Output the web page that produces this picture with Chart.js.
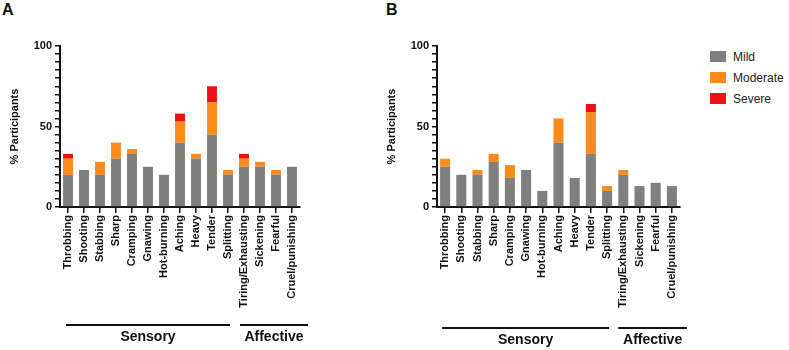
<!DOCTYPE html>
<html>
<head>
<meta charset="utf-8">
<script src="https://cdn.jsdelivr.net/npm/chart.js@4/dist/chart.umd.min.js"></script>
<style>
  body { margin: 0; width: 789px; height: 350px; background: #fff; position: relative; overflow: hidden;
         font-family: "Liberation Sans", Arial, sans-serif; }
  .wrap { position: absolute; top: 0; }
  .panel { position: absolute; font-weight: bold; font-size: 16px; color: #111; }
  #legend { position: absolute; left: 710px; top: 50px; font-size: 12px; color: #222; }
  #legend div { height: 21px; display: flex; align-items: flex-start; }
  #legend span.box { width: 16px; height: 11px; margin-right: 7px; margin-top: 1px; }
</style>
</head>
<body>
<div class="panel" style="left:2px;top:1px">A</div>
<div class="panel" style="left:386px;top:1px">B</div>
<div class="wrap" style="left:0"><canvas id="chartA" width="310" height="350"></canvas></div>
<div class="wrap" style="left:376px"><canvas id="chartB" width="314" height="350"></canvas></div>
<div id="legend"></div>
<script>
// data (% participants)
const descriptors = ['Throbbing', 'Shooting', 'Stabbing', 'Sharp', 'Cramping', 'Gnawing', 'Hot-burning',
  'Aching', 'Heavy', 'Tender', 'Splitting', 'Tiring/Exhausting', 'Sickening', 'Fearful', 'Cruel/punishing'];
const severities = ['Mild', 'Moderate', 'Severe'];
const severityColors = ['#7f7f7f', '#ff8a1c', '#ee1111'];

const mildA     = [20, 23, 20, 30, 33, 25, 20, 40, 30, 45, 20, 25, 25, 20, 25];
const moderateA = [10,  0,  8, 10,  3,  0,  0, 13,  3, 20,  3,  5,  3,  3,  0];
const severeA   = [ 3,  0,  0,  0,  0,  0,  0,  5,  0, 10,  0,  3,  0,  0,  0];

const mildB     = [25, 20, 20, 28, 18, 23, 10, 40, 18, 33, 10, 20, 13, 15, 13];
const moderateB = [ 5,  0,  3,  5,  8,  0,  0, 15,  0, 26,  3,  3,  0,  0,  0];
const severeB   = [ 0,  0,  0,  0,  0,  0,  0,  0,  0,  5,  0,  0,  0,  0,  0];

const yTicks = [0, 50, 100];

const groupNames = ['Sensory', 'Affective'];
const groupFirst = [0, 11];
const groupLast  = [10, 14];

// draws the Sensory / Affective brackets under the rotated labels
const groupLines = {
  id: 'groupLines',
  afterDraw(chart, args, opts) {
    const xs = chart.scales.x;
    const ctx = chart.ctx;
    ctx.save();
    ctx.strokeStyle = '#111';
    ctx.lineWidth = 2;
    ctx.fillStyle = '#111';
    ctx.font = 'bold 14px "Liberation Sans", Arial, sans-serif';
    ctx.textAlign = 'center';
    ctx.textBaseline = 'middle';
    groupNames.forEach((name, i) => {
      const x0 = xs.getPixelForValue(groupFirst[i]) - opts.padL[i];
      const x1 = xs.getPixelForValue(groupLast[i]) + opts.padR[i];
      ctx.beginPath();
      ctx.moveTo(x0, opts.lineY);
      ctx.lineTo(x1, opts.lineY);
      ctx.stroke();
      ctx.fillText(name, (x0 + x1) / 2, opts.lineY + 12);
    });
    ctx.restore();
  }
};

function makeChart(id, series, yWidth, titlePad, lineY, padL, padR) {
  const font = { family: '"Liberation Sans", Arial, sans-serif', weight: 'bold', size: 11 };
  return new Chart(document.getElementById(id), {
    type: 'bar',
    data: {
      labels: descriptors,
      datasets: series.map((s, i) => ({
        label: severities[i],
        data: s,
        backgroundColor: severityColors[i],
        borderWidth: 0,
        barPercentage: 0.62,
        categoryPercentage: 1
      }))
    },
    options: {
      responsive: false,
      animation: false,
      layout: { padding: { top: 46, right: 10, left: 0, bottom: 0 } },
      plugins: {
        legend: { display: false },
        tooltip: { enabled: false },
        groupLines: { lineY: lineY, padL: padL, padR: padR }
      },
      scales: {
        x: {
          stacked: true,
          afterFit: (scale) => { scale.height = 143; },
          grid: { drawOnChartArea: false, offset: false, tickLength: 6, color: '#111', lineWidth: 1.5 },
          border: { color: '#111', width: 2 },
          ticks: { autoSkip: false, minRotation: 90, maxRotation: 90, padding: 2, color: '#111', font: font }
        },
        y: {
          stacked: true,
          min: 0,
          max: 100,
          afterFit: (scale) => { scale.width = yWidth; },
          grid: { drawOnChartArea: false, tickLength: 5, color: '#111', lineWidth: 1.5 },
          border: { color: '#111', width: 2 },
          ticks: {
            stepSize: 5, autoSkip: false, padding: 3, color: '#111', font: font,
            callback: (v) => (yTicks.includes(v) ? v : '')
          },
          title: { display: true, text: '% Participants', color: '#111', font: font,
                   padding: { top: titlePad, bottom: 0 } }
        }
      }
    },
    plugins: [groupLines]
  });
}

makeChart('chartA', [mildA, moderateA, severeA], 60, 8, 325, [2, 4], [2, 16]);
makeChart('chartB', [mildB, moderateB, severeB], 61, 9, 328, [3, 5], [2, 15]);

// legend
const legend = document.getElementById('legend');
severities.forEach((name, i) => {
  const row = document.createElement('div');
  const box = document.createElement('span');
  box.className = 'box';
  box.style.background = severityColors[i];
  row.appendChild(box);
  row.appendChild(document.createTextNode(name));
  legend.appendChild(row);
});
</script>
</body>
</html>
